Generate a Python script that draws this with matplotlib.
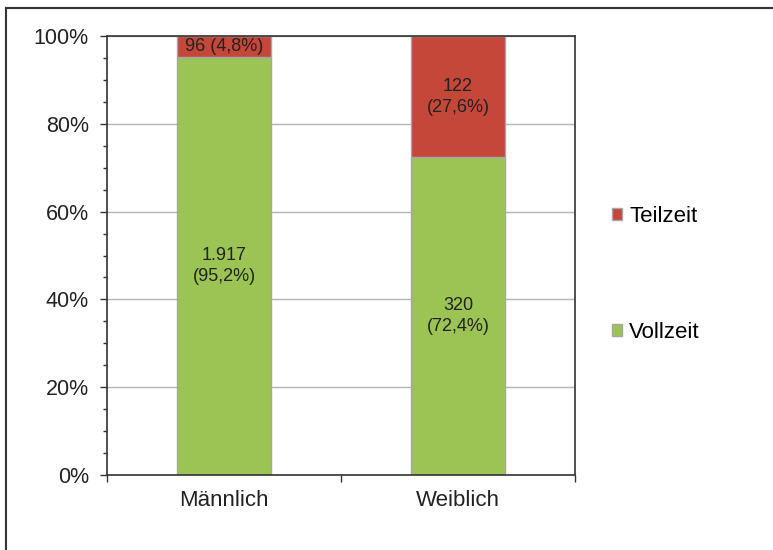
import numpy as np
import matplotlib
matplotlib.use("Agg")
import matplotlib.pyplot as plt
from matplotlib.lines import Line2D

plt.rcParams['font.family'] = ['Liberation Sans', 'DejaVu Sans']

categories = ["Männlich", "Weiblich"]
vollzeit = [1917, 320]
teilzeit = [96, 122]

green = "#9BC454"
red = "#C4473A"
edge = "#A6A6A6"


def de_num(v):
    # German thousands separator
    return f"{v:,}".replace(",", ".")


def de_pct(p):
    return f"{p:.1f}%".replace(".", ",")


voll = np.array(vollzeit, dtype=float)
teil = np.array(teilzeit, dtype=float)
total = voll + teil
voll_pct = voll / total * 100
teil_pct = teil / total * 100

fig = plt.figure(figsize=(7.73, 5.50), dpi=100)
ax = fig.add_axes([107 / 773, 75 / 550, 468 / 773, 439 / 550])

x = np.arange(len(categories)) + 0.5
ax.bar(x, voll_pct, width=0.4, color=green, edgecolor=edge, linewidth=1.0,
       label="Vollzeit", zorder=3)
ax.bar(x, teil_pct, width=0.4, bottom=voll_pct, color=red, edgecolor=edge,
       linewidth=1.0, label="Teilzeit", zorder=3)

# labels inside segments
for i in range(len(categories)):
    ax.text(x[i], voll_pct[i] / 2, f"{de_num(vollzeit[i])}\n({de_pct(voll_pct[i])})",
            ha="center", va="center", fontsize=13, color="#222222",
            linespacing=1.3, zorder=4)
    if teil_pct[i] < 10:
        txt = f"{de_num(teilzeit[i])} ({de_pct(teil_pct[i])})"
    else:
        txt = f"{de_num(teilzeit[i])}\n({de_pct(teil_pct[i])})"
    ax.text(x[i], voll_pct[i] + teil_pct[i] / 2, txt, ha="center", va="center",
            fontsize=13, color="#222222", linespacing=1.3, zorder=4)

ax.set_xlim(0, 2)
ax.set_ylim(0, 100)

ax.set_yticks(np.arange(0, 101, 20))
ax.set_yticklabels([f"{v}%" for v in range(0, 101, 20)])
ax.set_yticks(np.arange(0, 101, 5), minor=True)
ax.yaxis.grid(True, color="#B4B4B4", linewidth=1.0, zorder=0)

ax.set_xticks([0, 1, 2])
ax.set_xticklabels([])
ax.set_xticks(x, minor=True)
ax.set_xticklabels(categories, minor=True)

ax.tick_params(axis="y", which="major", direction="out", length=5, width=1.0,
               pad=8, labelsize=15.5, colors="#333333", labelcolor="#222222")
ax.tick_params(axis="y", which="minor", direction="out", length=3, width=1.0,
               colors="#333333")
ax.tick_params(axis="x", which="major", direction="out", length=5, width=1.0,
               colors="#333333")
ax.tick_params(axis="x", which="minor", length=0, pad=11, labelsize=16,
               labelcolor="#222222")

for s in ax.spines.values():
    s.set_color("#333333")
    s.set_linewidth(1.2)
    s.set_zorder(5)

handles, labels = ax.get_legend_handles_labels()
ax.legend(handles[::-1], labels[::-1], loc="center left",
          bbox_to_anchor=(612 / 773, 1 - 274.5 / 550), bbox_transform=fig.transFigure,
          frameon=False, fontsize=16, handlelength=0.45, handleheight=0.45,
          handletextpad=0.33, labelspacing=4.25, borderpad=0, borderaxespad=0)

# outer frame (top and left edges visible)
fig.add_artist(Line2D([6.5 / 773, 1], [1 - 8 / 550, 1 - 8 / 550],
                      transform=fig.transFigure, color="#333333", linewidth=1.5))
fig.add_artist(Line2D([6.5 / 773, 6.5 / 773], [0, 1 - 8 / 550],
                      transform=fig.transFigure, color="#333333", linewidth=1.5))

fig.savefig("out.png", dpi=100)
